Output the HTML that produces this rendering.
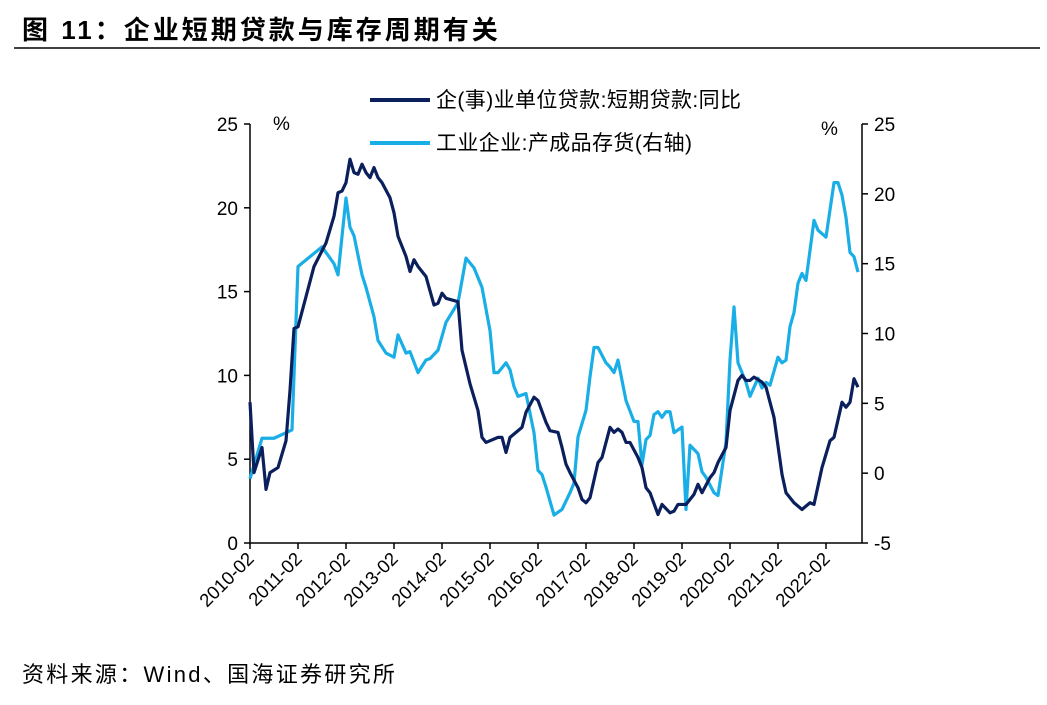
<!DOCTYPE html>
<html><head><meta charset="utf-8"><style>
body{margin:0;background:#fff;width:1047px;height:700px;overflow:hidden;font-family:"Liberation Sans","Noto Sans CJK SC",sans-serif}
</style></head><body>
<svg id="c" width="1047" height="700" xmlns="http://www.w3.org/2000/svg">
<text x="22" y="39" font-size="26" letter-spacing="3" font-weight="bold" fill="#000" font-family="Liberation Sans,Noto Sans CJK SC,sans-serif">图 11：企业短期贷款与库存周期有关</text>
<line x1="14" y1="48" x2="1040" y2="48" stroke="#000" stroke-width="1.5"/>
<text x="22" y="682" font-size="22" letter-spacing="2.3" fill="#000" font-family="Liberation Sans,Noto Sans CJK SC,sans-serif">资料来源：Wind、国海证券研究所</text>
<g id="plot"></g>
</svg>
<script>
const xLabels=["2010-02","2011-02","2012-02","2013-02","2014-02","2015-02","2016-02","2017-02","2018-02","2019-02","2020-02","2021-02","2022-02"];
const leftTicks=[0,5,10,15,20,25];
const rightTicks=[-5,0,5,10,15,20,25];
const loanMonths=[0,1,3,4,5,7,9,10,11,12,14,16,19,21,22,23,24,25,26,27,28,29,30,31,32,33,35,36,37,39,40,41,42,44,46,47,48,49,52,53,55,57,58,59,62,63,64,65,68,69,71,72,74,75,77,78,79,80,82,83,84,85,87,88,90,91,92,93,94,95,97,98,99,100,102,103,105,106,107,109,111,112,113,115,116,117,119,120,122,123,124,125,126,128,129,131,133,134,136,138,140,141,143,145,146,148,149,150,151,152];
const loanValues=[8.4,4.2,5.7,3.2,4.2,4.5,6.1,9.1,12.8,12.9,14.7,16.5,17.9,19.5,20.9,21.0,21.5,22.9,22.1,22.0,22.6,22.1,21.8,22.4,21.8,21.5,20.6,19.7,18.3,17.1,16.2,16.9,16.5,15.9,14.2,14.3,14.9,14.6,14.4,11.5,9.5,7.9,6.3,6.0,6.3,6.3,5.4,6.3,6.9,7.8,8.7,8.5,7.2,6.7,6.6,5.7,4.7,4.2,3.3,2.6,2.4,2.7,4.8,5.1,6.9,6.6,6.8,6.6,6.0,6.0,5.1,4.5,3.3,3.0,1.7,2.3,1.8,1.9,2.3,2.3,2.9,3.5,3.0,3.9,4.2,4.8,5.7,7.9,9.7,10.0,9.7,9.7,9.9,9.6,9.3,7.5,4.1,3.0,2.4,2.0,2.4,2.3,4.5,6.1,6.3,8.4,8.1,8.4,9.8,9.3];
const invMonths=[0,3,6,9,10.5,12,18,21,22,24,25,26,28,29,31,32,34,36,37,39,40,42,44,45,47,49,52,53,54,56,58,60,61,62,64,65,66,67,69,71,72,73,74,76,78,80,81,82,84,85,86,87,89,90,91,92,94,96,97,98,99,100,101,102,103,104,105,106,108,109,110,112,113,114,116,117,119,120,121,122,124,125,127,128,129,130,132,133,134,135,136,137,138,139,141,142,144,146,147,148,149,150,151,152];
const invValues=[-0.4,2.5,2.5,2.9,3.1,14.8,16.2,15.0,14.2,19.7,17.6,17.0,14.2,13.3,11.2,9.5,8.6,8.3,9.9,8.6,8.7,7.2,8.1,8.2,8.8,10.8,12.2,13.8,15.4,14.7,13.3,10.2,7.2,7.2,7.9,7.4,6.2,5.5,5.7,2.9,0.2,-0.1,-1.0,-3.0,-2.6,-1.4,-0.7,2.6,4.5,6.9,9.0,9.0,7.9,7.6,7.2,8.1,5.2,3.7,3.7,0.6,2.4,2.7,4.2,4.4,4.0,4.4,4.4,2.9,3.3,-2.6,2.0,1.4,0.1,-0.3,-1.4,-1.6,2.2,8.1,11.9,7.9,6.5,5.5,6.8,6.1,6.5,6.3,8.3,7.9,8.1,10.5,11.5,13.6,14.3,13.8,18.1,17.4,16.9,20.8,20.8,19.9,18.3,15.8,15.5,14.4];
const X0=250,X1=862,YB=543,YT=124;
const xs=m=>X0+m*4;
const yL=v=>YB-(v-0)/25*(YB-YT);
const yR=v=>YB-(v+5)/30*(YB-YT);
const NS="http://www.w3.org/2000/svg";
const g=document.getElementById('plot');
function mk(t,a){const e=document.createElementNS(NS,t);for(const k in a)e.setAttribute(k,a[k]);g.appendChild(e);return e;}
const F='Liberation Sans,Noto Sans CJK SC,sans-serif';
let e;
e=mk('line',{x1:X0,y1:YT,x2:X0,y2:YB,stroke:'#000','stroke-width':1.5});


e=mk('line',{x1:X1,y1:YT,x2:X1,y2:YB,stroke:'#000','stroke-width':1.5});


e=mk('line',{x1:X0,y1:YB,x2:X1,y2:YB,stroke:'#000','stroke-width':1.5});


leftTicks.forEach(v=>{const y=yL(v);
 e=mk('line',{x1:X0-6,y1:y,x2:X0,y2:y,stroke:'#000','stroke-width':1.5});
 
 
 e=mk('text',{x:X0-12,y:y+7,'text-anchor':'end','font-size':19,'font-family':F});e.textContent=v;
 
 });
rightTicks.forEach(v=>{const y=yR(v);
 e=mk('line',{x1:X1,y1:y,x2:X1+6,y2:y,stroke:'#000','stroke-width':1.5});
 
 
 e=mk('text',{x:X1+12,y:y+7,'text-anchor':'start','font-size':19,'font-family':F});e.textContent=v;
 
 });
xLabels.forEach((l,i)=>{const x=xs(i*12);
 e=mk('line',{x1:x,y1:YB,x2:x,y2:YB+6,stroke:'#000','stroke-width':1.5});
 
 
 e=mk('text',{x:x+5,y:YB+17,'text-anchor':'end','font-size':18.5,'font-family':F,transform:`rotate(-45 ${x+5} ${YB+17})`});e.textContent=l;
 
 });
e=mk('text',{x:273,y:130,'font-size':19,'font-family':F});e.textContent='%';


e=mk('text',{x:821,y:135,'font-size':19,'font-family':F});e.textContent='%';


e=mk('polyline',{points:invMonths.map((m,i)=>xs(m)+','+yR(invValues[i])).join(' '),fill:'none',stroke:'#1aaee6','stroke-width':3.2,'stroke-linejoin':'round'});


e=mk('polyline',{points:loanMonths.map((m,i)=>xs(m)+','+yL(loanValues[i])).join(' '),fill:'none',stroke:'#0b1f5c','stroke-width':3.2,'stroke-linejoin':'round'});


e=mk('line',{x1:370,y1:100,x2:430,y2:100,stroke:'#0b1f5c','stroke-width':4});


e=mk('text',{x:436,y:107,'font-size':21,'letter-spacing':0.4,'font-family':F});e.textContent='企(事)业单位贷款:短期贷款:同比';


e=mk('line',{x1:370,y1:143,x2:430,y2:143,stroke:'#1aaee6','stroke-width':4});


e=mk('text',{x:436,y:150,'font-size':21,'letter-spacing':0.4,'font-family':F});e.textContent='工业企业:产成品存货(右轴)';


</script>
</body></html>
